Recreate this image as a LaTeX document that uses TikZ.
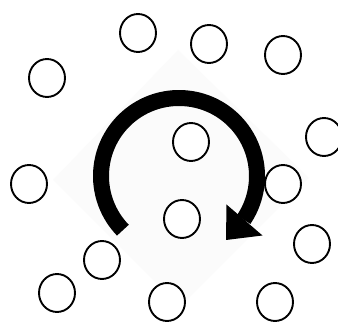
\documentclass[tikz,border=0pt]{standalone}
\begin{document}
\begin{tikzpicture}[x=1pt,y=1pt,
  ball/.style={draw=black,line width=1.9pt,fill=white},
  bigarrow/.style={line width=16pt,draw=black}]
\useasboundingbox (0,0) rectangle (338,324);
\fill[white] (0,0) rectangle (338,324);
% faint diamond
\fill[white!98.5!black] (178,274) -- (53,144) -- (180,17) -- (309,146) -- cycle;
% rotation arrow
\draw[bigarrow] (179,148) ++(224:78) arc[start angle=224,end angle=-34,radius=78];
\fill[black] (226.5,119.5) -- (226,84) -- (262.5,88.5) -- cycle;
% circles
\foreach \p in {(138,291),(209,280),(283,269),(47,246),(324,187),(191,182),
  (29,140),(283,140),(182,105),(312,80),(102,64),(57,31),(167,22),(275,22)}
  \draw[ball] \p ellipse[x radius=18,y radius=19];
\end{tikzpicture}
\end{document}
